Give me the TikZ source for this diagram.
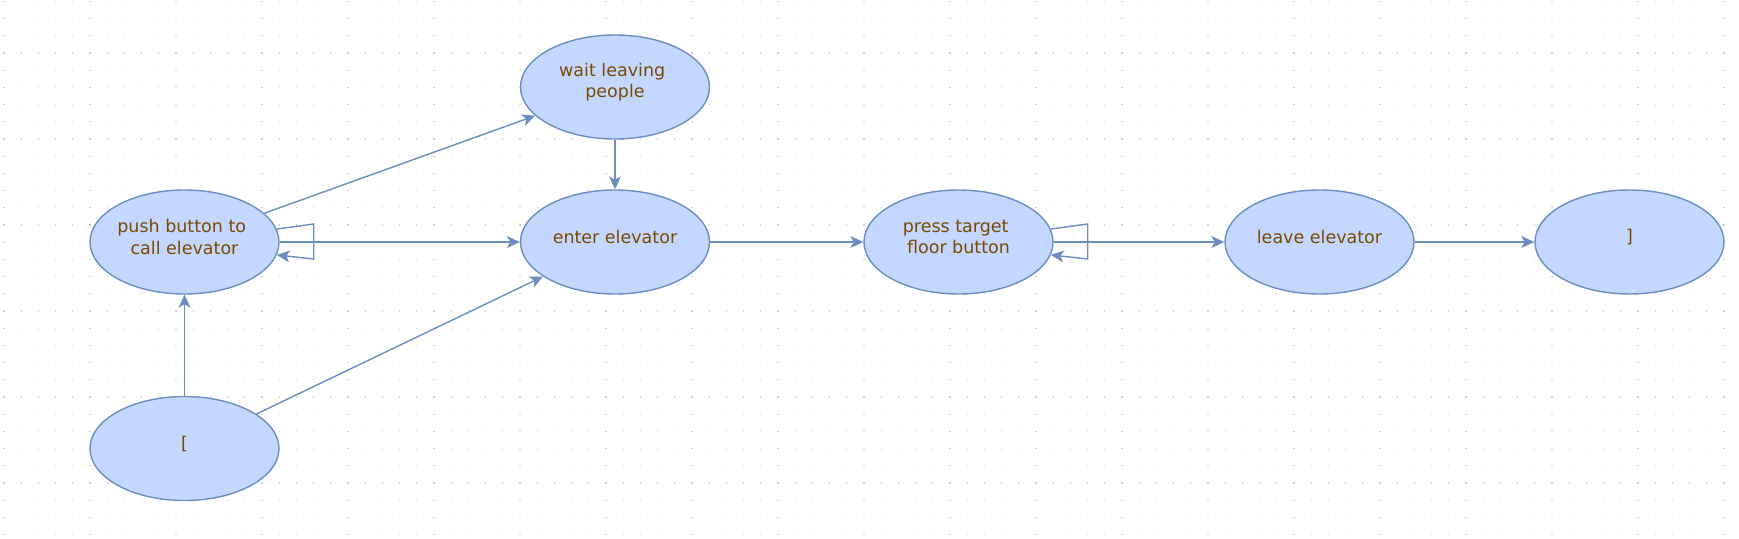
\documentclass[tikz,border=0pt]{standalone}
\usepackage{fontspec}
\setmainfont{DejaVu Sans}
\usetikzlibrary{shapes.geometric,arrows.meta,calc}
\definecolor{nodefill}{RGB}{196,216,255}
\definecolor{nodeline}{RGB}{108,142,191}
\definecolor{txt}{RGB}{122,72,0}
\definecolor{griddot}{RGB}{205,205,205}
\newcommand{\trsp}{\hspace*{0.318em}}
\begin{document}
\begin{tikzpicture}[x=1pt,y=-1pt,
  state/.style={ellipse,draw=nodeline,fill=nodefill,line width=1.4pt,minimum width=189pt,minimum height=104pt,inner sep=0pt},
  label text/.style={align=center,text=txt,inner sep=0pt,font=\fontsize{17.5}{21.5}\selectfont},
  edge/.style={draw=nodeline,line width=1.4pt,-{Stealth[length=13pt,width=12pt,inset=3.5pt]}},
  loopline/.style={draw=nodeline,line width=1.4pt,line join=miter,-{Stealth[length=13pt,width=12pt,inset=3.5pt]}}]
\useasboundingbox (0,0) rectangle (1739,538);
\foreach \i in {0,...,100}{\foreach \j in {0,...,31}{\fill[griddot] (3.4+17.2*\i, 0.7+17.2*\j) rectangle ++(1.2,1.2);}}
% states
\node[state] (push)  at (184.5,242) {};
\node[state] (start) at (184.5,448.5) {};
\node[state] (wait)  at (615,87) {};
\node[state] (enter) at (615,242) {};
\node[state] (press) at (958.5,242) {};
\node[state] (leave) at (1319.5,242) {};
\node[state] (end)   at (1629.5,242) {};
% texts
\node[label text] (pusht)  at ($(push)+(0,-5)$)  {push button to\trsp\\ call elevator};
\node[label text] (startt) at ($(start)+(0,-5)$) {[};
\node[label text] (waitt)  at ($(wait)+(0,-5)$)  {wait leaving\trsp\\ people};
\node[label text] (entert) at ($(enter)+(0,-5)$) {enter elevator};
\node[label text] (presst) at ($(press)+(0,-5)$) {press target\trsp\\ floor button};
\node[label text] (leavet) at ($(leave)+(0,-5)$) {leave elevator};
\node[label text] (endt)   at ($(end)+(0,-5)$)   {]};
% edges
\draw[edge] (push) -- (wait);
\draw[edge] (push) -- (enter);
\draw[edge] (start) -- (push);
\draw[edge] (start) -- (enter);
\draw[edge] (wait) -- (enter);
\draw[edge] (enter) -- (press);
\draw[edge] (press) -- (leave);
\draw[edge] (leave) -- (end);
% self loops
\coordinate (pl1) at ($(push.east)+(34,-18)$);
\coordinate (pl2) at ($(push.east)+(34,17)$);
\draw[loopline] (push.8) -- (pl1) -- (pl2) -- (push.-8);
\coordinate (ql1) at ($(press.east)+(34,-18)$);
\coordinate (ql2) at ($(press.east)+(34,17)$);
\draw[loopline] (press.8) -- (ql1) -- (ql2) -- (press.-8);
\end{tikzpicture}
\end{document}
